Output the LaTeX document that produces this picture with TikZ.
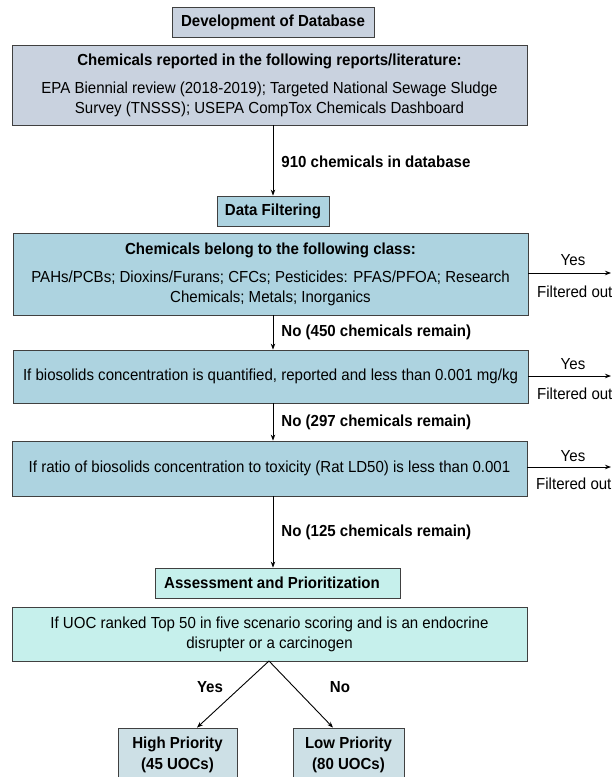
\documentclass[tikz,border=0pt]{standalone}
\usepackage{fontspec}
\setmainfont{Liberation Sans}[FakeStretch=0.94]
\usetikzlibrary{arrows.meta,calc}
\definecolor{graybox}{HTML}{C9D2DF}
\definecolor{bluebox}{HTML}{ADD3E0}
\definecolor{cyanbox}{HTML}{C6F0EC}
\definecolor{prbox}{HTML}{CDE0E6}
\definecolor{edge}{HTML}{404040}
\begin{document}
\begin{tikzpicture}[x=1pt,y=-1pt,
  box/.style={draw=edge,line width=0.8pt,inner sep=0pt,align=center,
    font=\fontsize{16}{20}\selectfont},
  bbox/.style={box,font=\fontsize{16}{20}\selectfont\bfseries},
  lbl/.style={font=\fontsize{16}{20}\selectfont\bfseries,inner sep=0pt},
  side/.style={font=\fontsize{16}{20}\selectfont,inner sep=0pt},
  arr/.style={line width=0.9pt,-{Stealth[length=6pt,width=4.5pt]}}]
\useasboundingbox (0,0) rectangle (611,777);
\clip (0,0) rectangle (611,777);
% boxes
\node[bbox,fill=graybox,minimum width=202pt,minimum height=30pt] (dev) at (273,22) {Development of Database};
\node[box,fill=graybox,minimum width=515pt,minimum height=80pt] (lit) at (269.5,85)
  {\textbf{Chemicals reported in the following reports/literature:}\\[8pt]
   EPA Biennial review (2018-2019); Targeted National Sewage Sludge\\
   Survey (TNSSS); USEPA CompTox Chemicals Dashboard};
\node[bbox,fill=bluebox,minimum width=112pt,minimum height=30pt] (filt) at (273,211) {Data Filtering};
\node[box,fill=bluebox,minimum width=515pt,minimum height=82pt] (cls) at (270.5,274)
  {\textbf{Chemicals belong to the following class:}\\[8pt]
   PAHs/PCBs; Dioxins/Furans; CFCs; Pesticides: PFAS/PFOA; Research\\
   Chemicals; Metals; Inorganics};
\node[box,fill=bluebox,minimum width=515pt,minimum height=53pt] (bio) at (270.5,376.5)
  {If biosolids concentration is quantified, reported and less than 0.001 mg/kg};
\node[box,fill=bluebox,minimum width=515pt,minimum height=55pt] (rat) at (269.5,468.5)
  {If ratio of biosolids concentration to toxicity (Rat LD50) is less than 0.001};
\node[box,fill=cyanbox,minimum width=245pt,minimum height=30pt] (ass) at (277.5,583) {};
\node[lbl,anchor=west] (asst) at (164,583) {Assessment and Prioritization};
\node[box,fill=cyanbox,minimum width=515pt,minimum height=54pt] (uoc) at (269.5,634)
  {If UOC ranked Top 50 in five scenario scoring and is an endocrine\\
   disrupter or a carcinogen};
\node[bbox,fill=prbox,minimum width=119pt,minimum height=53pt,font=\fontsize{16}{21}\selectfont\bfseries] (high) at (177.5,754.5) {High Priority\\(45 UOCs)};
\node[bbox,fill=prbox,minimum width=111pt,minimum height=53pt,font=\fontsize{16}{21}\selectfont\bfseries] (low) at (348.5,754.5) {Low Priority\\(80 UOCs)};
% vertical connectors
\draw[arr] (filt.north |- lit.south) -- (filt.north)
  node[lbl,anchor=west,pos=0.52,xshift=8pt] {910 chemicals in database};
\draw[arr] (filt.north |- cls.south) -- (filt.north |- bio.north)
  node[lbl,anchor=west,midway,xshift=8pt] {No (450 chemicals remain)};
\draw[arr] (filt.north |- bio.south) -- (filt.north |- rat.north)
  node[lbl,anchor=west,midway,xshift=8pt] {No (297 chemicals remain)};
\draw[arr] (filt.north |- rat.south) -- (filt.north |- ass.north)
  node[lbl,anchor=west,midway,xshift=8pt] {No (125 chemicals remain)};
% branches
\coordinate (split) at (269,661);
\draw[arr] (split) -- (high.north -| 197,0);
\draw[arr] (split) -- (low.north -| 333,0);
\node[lbl] (yes) at (210,687) {Yes};
\node[lbl] (no) at (340,687) {No};
% right exits
\coordinate (o1) at (611,273);
\coordinate (o2) at (611,376);
\coordinate (o3) at (611,467);
\draw[arr] (cls.east |- o1) -- (o1);
\draw[arr] (bio.east |- o2) -- (o2);
\draw[arr] (rat.east |- o3) -- (o3);
\node[side] (y1) at (573,260) {Yes};
\node[side] (y2) at (573,364) {Yes};
\node[side] (y3) at (573,456) {Yes};
\node[side,anchor=west] (f1) at (537,292) {Filtered out};
\node[side,anchor=west] (f2) at (537,394) {Filtered out};
\node[side,anchor=west] (f3) at (536,484) {Filtered out};
\end{tikzpicture}
\end{document}
